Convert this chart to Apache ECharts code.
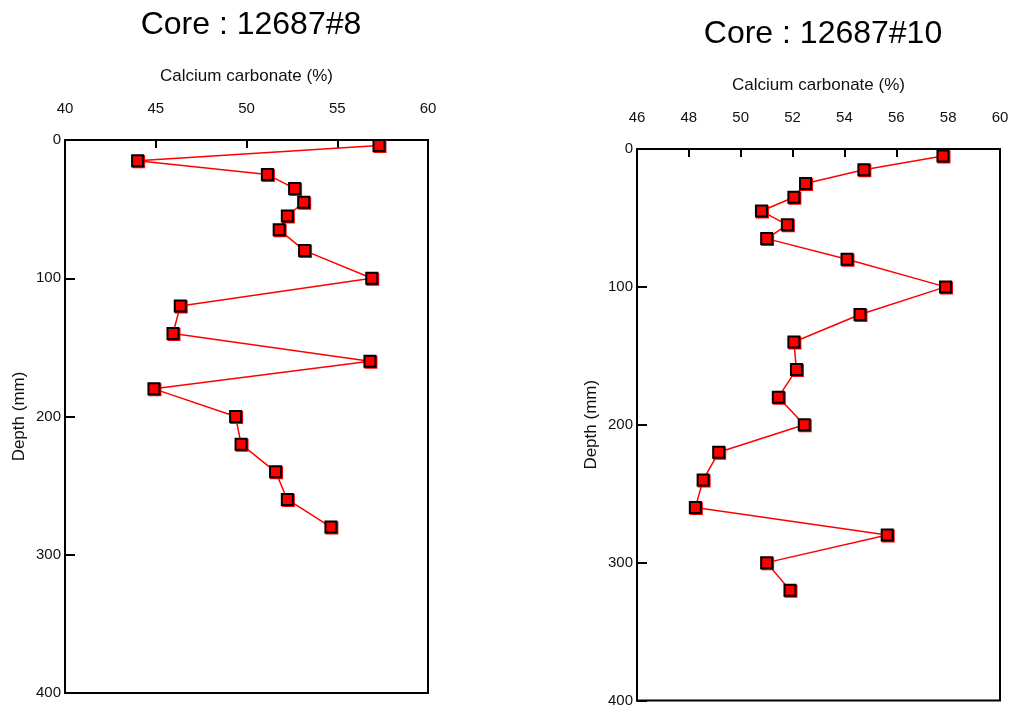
<!DOCTYPE html>
<html>
<head>
<meta charset="utf-8">
<script src="https://cdn.jsdelivr.net/npm/echarts@6/dist/echarts.min.js"></script>
<style>
  html, body { margin: 0; padding: 0; background: #fff; }
  #chart { width: 1013px; height: 708px; }
</style>
</head>
<body>
<div id="chart"></div>
<script>
// Core 12687#8 : calcium carbonate (%) vs. depth (mm)
const core8Depth = [4, 15, 25, 35, 45, 55, 65, 80, 100, 120, 140, 160, 180, 200, 220, 240, 260, 280];
const core8CaCO3 = [57.3, 44.0, 51.15, 52.65, 53.15, 52.25, 51.8, 53.2, 56.9, 46.35, 45.95, 56.8, 44.9, 49.4, 49.7, 51.6, 52.25, 54.65];

// Core 12687#10 : calcium carbonate (%) vs. depth (mm)
const core10Depth = [5, 15, 25, 35, 45, 55, 65, 80, 100, 120, 140, 160, 180, 200, 220, 240, 260, 280, 300, 320];
const core10CaCO3 = [57.8, 54.75, 52.5, 52.05, 50.8, 51.8, 51.0, 54.1, 57.9, 54.6, 52.05, 52.15, 51.45, 52.45, 49.15, 48.55, 48.25, 55.65, 51.0, 51.9];

const titles = ['Core : 12687#8', 'Core : 12687#10'];
const xName = 'Calcium carbonate (%)';
const yName = 'Depth (mm)';

const FONT = 'Liberation Sans, Arial, sans-serif';

function pairs(xs, ys) {
  return xs.map((x, i) => [x, ys[i]]);
}

function xAxisFor(gridIndex, min, max, interval) {
  return {
    gridIndex, type: 'value', position: 'top', min, max, interval,
    name: xName, nameLocation: 'middle', nameGap: 55,
    nameTextStyle: { fontFamily: FONT, fontSize: 17, color: '#111' },
    axisLine: { show: true, lineStyle: { color: '#000', width: 2 } },
    axisTick: { show: true, inside: true, length: 8, lineStyle: { color: '#000', width: 2 } },
    axisLabel: { margin: 24, fontFamily: FONT, fontSize: 15, color: '#111' },
    splitLine: { show: false }
  };
}

function yAxisFor(gridIndex) {
  return {
    gridIndex, type: 'value', inverse: true, min: 0, max: 400, interval: 100,
    name: yName, nameLocation: 'middle', nameGap: 37, nameRotate: 90,
    nameTextStyle: { fontFamily: FONT, fontSize: 17, color: '#111' },
    axisLine: { show: true, lineStyle: { color: '#000', width: 2 } },
    axisTick: { show: true, inside: true, length: 10, lineStyle: { color: '#000', width: 2 } },
    axisLabel: { margin: 4, fontFamily: FONT, fontSize: 15, color: '#111' },
    splitLine: { show: false }
  };
}

function seriesFor(idx, data) {
  return {
    type: 'line', xAxisIndex: idx, yAxisIndex: idx, data,
    symbol: 'rect', symbolSize: 11,
    lineStyle: { color: '#ff0000', width: 1.5 },
    itemStyle: {
      color: '#ff0000', borderColor: '#000', borderWidth: 2,
      shadowColor: '#ff0000', shadowOffsetX: 1, shadowOffsetY: 1, shadowBlur: 0
    },
    emphasis: { disabled: true },
    animation: false
  };
}

const chart = echarts.init(document.getElementById('chart'), null, { renderer: 'canvas' });
chart.setOption({
  backgroundColor: '#fff',
  animation: false,
  title: [
    { text: titles[0], left: 246, top: 4, textAlign: 'center',
      textStyle: { fontFamily: FONT, fontSize: 32, fontWeight: 'normal', color: '#000' } },
    { text: titles[1], left: 818, top: 13, textAlign: 'center',
      textStyle: { fontFamily: FONT, fontSize: 32, fontWeight: 'normal', color: '#000' } }
  ],
  grid: [
    { left: 65, top: 140, width: 363, height: 553, show: true, borderColor: '#000', borderWidth: 2, containLabel: false },
    { left: 637, top: 149, width: 363, height: 552, show: true, borderColor: '#000', borderWidth: 2, containLabel: false }
  ],
  xAxis: [xAxisFor(0, 40, 60, 5), xAxisFor(1, 46, 60, 2)],
  yAxis: [yAxisFor(0), yAxisFor(1)],
  series: [
    seriesFor(0, pairs(core8CaCO3, core8Depth)),
    seriesFor(1, pairs(core10CaCO3, core10Depth))
  ]
});
</script>
</body>
</html>
